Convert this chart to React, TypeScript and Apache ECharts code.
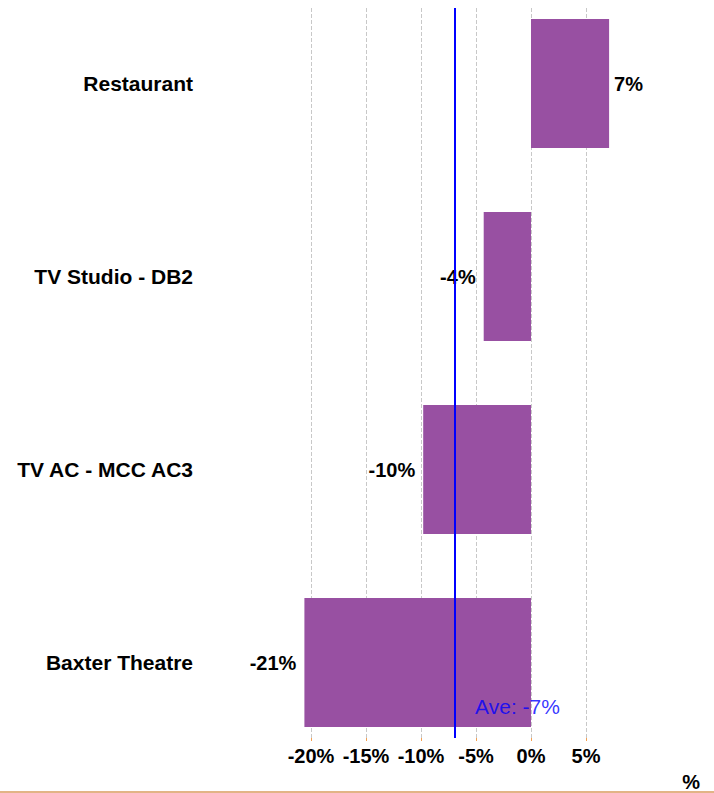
import React, { useEffect, useRef } from "react";
import * as echarts from "echarts";

const categories = ["Restaurant", "TV Studio - DB2", "TV AC - MCC AC3", "Baxter Theatre"];
const values = [7.1, -4.3, -9.8, -20.6];
const tickMin = -20;
const tickMax = 5;
const tickStep = 5;
const axisName = "%";

const FONT = "'Liberation Sans', Arial, sans-serif";

export default function App() {
  const ref = useRef<HTMLDivElement>(null);
  useEffect(() => {
    document.body.style.margin = "0";
    if (!ref.current) return;
    const chart = echarts.init(ref.current, undefined, { renderer: "svg" });
    const avg = values.reduce((a, b) => a + b, 0) / values.length;
    chart.setOption({
      animation: false,
      backgroundColor: "#ffffff",
      grid: [
        { left: 311, width: 275, top: 8, height: 730, containLabel: false },
        { left: 289, width: 330, top: 83.5, height: 579, containLabel: false },
      ],
      xAxis: [
        {
          type: "value",
          gridIndex: 0,
          min: tickMin,
          max: tickMax,
          interval: tickStep,
          axisLine: { show: false },
          axisTick: { show: true, length: 3, lineStyle: { color: "#f5a050" } },
          splitLine: { show: true, lineStyle: { type: "dashed", color: "#c8c8c8", width: 1 } },
          axisLabel: {
            margin: 8,
            color: "#000",
            fontFamily: FONT,
            fontWeight: "bold",
            fontSize: 20,
            formatter: (v: number) => `${v}%`,
          },
        },
        {
          type: "value",
          gridIndex: 1,
          min: -22,
          max: 8,
          show: false,
          splitLine: { show: false },
        },
      ],
      yAxis: [
        { type: "value", gridIndex: 0, min: 0, max: 1, show: false, splitLine: { show: false } },
        {
          type: "category",
          gridIndex: 1,
          data: categories,
          inverse: true,
          boundaryGap: false,
          axisLine: { show: false },
          axisTick: { show: false },
          splitLine: { show: false },
          axisLabel: {
            margin: 96,
            color: "#000",
            fontFamily: FONT,
            fontWeight: "bold",
            fontSize: 21,
          },
        },
      ],
      series: [
        {
          type: "bar",
          xAxisIndex: 1,
          yAxisIndex: 1,
          barWidth: 129,
          itemStyle: { color: "#9850A2" },
          data: values.map((v) => ({
            value: v,
            label: {
              show: true,
              position: v >= 0 ? "right" : "left",
              distance: v >= 0 ? 5 : 8,
              color: "#000",
              fontFamily: FONT,
              fontWeight: "bold",
              fontSize: 20,
              formatter: () => `${v.toFixed(0)}%`,
            },
          })),
        },
        {
          type: "scatter",
          xAxisIndex: 0,
          yAxisIndex: 0,
          symbolSize: 0,
          z: 5,
          data: [[avg, 0.043]],
          label: {
            show: true,
            position: "right",
            distance: 20,
            color: "#0000ff",
            fontFamily: FONT,
            fontSize: 21,
            formatter: () => `Ave: ${avg.toFixed(0)}%`,
          },
          markLine: {
            silent: true,
            symbol: "none",
            label: { show: false },
            lineStyle: { color: "#0000ff", width: 2, type: "solid" },
            data: [{ xAxis: avg }],
          },
        },
      ],
      graphic: [
        {
          type: "text",
          right: 14,
          top: 772,
          style: { text: axisName, fontFamily: FONT, fontWeight: "bold", fontSize: 20, fill: "#000" },
        },
        {
          type: "rect",
          left: 0,
          top: 791,
          shape: { width: 714, height: 2 },
          style: { fill: "#e2b486" },
        },
      ],
    });
    return () => chart.dispose();
  }, []);
  return <div ref={ref} style={{ width: 714, height: 793 }} />;
}
